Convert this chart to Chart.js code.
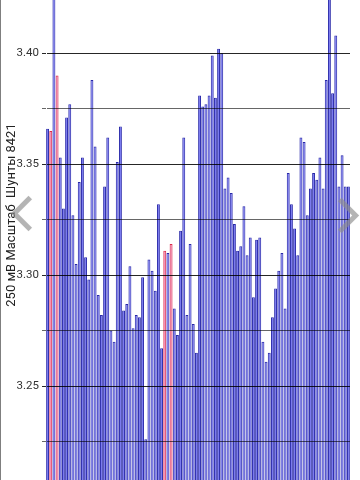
<!DOCTYPE html>
<html lang="ru">
<head>
  <meta charset="UTF-8" />
  <meta name="viewport" content="width=device-width, initial-scale=1.0"/>
  <title>Шунты 8421</title>
  <script src="https://cdn.jsdelivr.net/npm/chart.js"></script>
  <style>
    html, body { margin: 0; padding: 0; background: #fff; overflow: hidden; }
    body { width: 360px; height: 480px; position: relative; font-family: Roboto, Arial, sans-serif; }
    #wrap { position: absolute; left: 0; top: -70px; width: 360px; height: 570px; }
    .chev { position: absolute; width: 20px; height: 20px; border: 0 solid rgba(140,140,140,0.65); }
    #prev { left: 16px; top: 201px; border-left-width: 5px; border-bottom-width: 5px; transform: rotate(45deg); }
    #next { left: 329px; top: 203px; border-right-width: 5px; border-top-width: 5px; transform: rotate(45deg); }
  </style>
</head>
<body>

<div id="wrap"><canvas id="shunt"></canvas></div>
<div class="chev" id="prev"></div>
<div class="chev" id="next"></div>

<script>
// значения шунтов, по одному на столбик
const values = [
  3.366, 3.365, 3.440, 3.390, 3.353, 3.330, 3.371, 3.377, 3.327, 3.305,
  3.342, 3.353, 3.308, 3.298, 3.388, 3.358, 3.291, 3.282, 3.340, 3.362,
  3.275, 3.270, 3.351, 3.367, 3.284, 3.287, 3.304, 3.276, 3.282, 3.281,
  3.299, 3.226, 3.307, 3.302, 3.293, 3.332, 3.267, 3.311, 3.310, 3.314,
  3.285, 3.273, 3.320, 3.362, 3.282, 3.314, 3.278, 3.265, 3.381, 3.376,
  3.377, 3.381, 3.399, 3.380, 3.402, 3.400, 3.339, 3.344, 3.337, 3.323,
  3.311, 3.313, 3.331, 3.309, 3.317, 3.290, 3.316, 3.317, 3.270, 3.261,
  3.265, 3.281, 3.294, 3.302, 3.310, 3.285, 3.346, 3.332, 3.321, 3.309,
  3.362, 3.360, 3.327, 3.339, 3.346, 3.343, 3.353, 3.339, 3.388, 3.440,
  3.382, 3.408, 3.340, 3.354, 3.340, 3.340
];
const shunts = values.map((v, i) => String(i + 1));
const redBars = [1, 3, 37, 39];          // индексы красных столбиков
const yTicks = [3.225, 3.25, 3.275, 3.30, 3.325, 3.35, 3.375, 3.40];
const yLabels = [3.25, 3.30, 3.35, 3.40];
const yTitle = '250 мВ Масштаб  Шунты 8421';

const isLabel = v => yLabels.some(l => Math.abs(l - v) < 1e-6);

new Chart(document.getElementById('shunt'), {
  type: 'bar',
  data: {
    labels: shunts,
    datasets: [{
      data: values,
      backgroundColor: values.map((v, i) => redBars.includes(i) ? '#f080ac' : '#6c6cee'),
      borderColor: values.map((v, i) => redBars.includes(i) ? '#dc2848' : '#2828a8'),
      borderWidth: 1,
      borderSkipped: false,
      barPercentage: 0.92,
      categoryPercentage: 1
    }]
  },
  options: {
    responsive: true,
    maintainAspectRatio: false,
    animation: false,
    layout: { padding: { left: 0, right: 10, top: 0, bottom: 0 } },
    plugins: { legend: { display: false }, tooltip: { enabled: false } },
    scales: {
      x: { display: false },
      y: {
        min: 3.2031,
        max: 3.4511,
        afterBuildTicks: s => { s.ticks = yTicks.map(v => ({ value: v })); },
        afterFit: s => { s.width = 46; },
        border: { display: true, color: '#000', width: 1 },
        grid: {
          z: 1,
          drawTicks: true,
          tickLength: 4,
          lineWidth: 1,
          color: c => isLabel(c.tick.value) ? 'rgba(0,0,0,0.85)' : 'rgba(0,0,0,0.6)'
        },
        ticks: {
          autoSkip: false,
          padding: 3,
          color: '#333',
          font: { family: 'Roboto', size: 11.5 },
          callback: v => isLabel(v) ? Number(v).toFixed(2) : ''
        },
        title: {
          display: true,
          text: yTitle,
          color: '#222',
          font: { family: 'Roboto', size: 13 },
          padding: { top: 4, bottom: 0 }
        }
      }
    }
  }
});
</script>

</body>
</html>
